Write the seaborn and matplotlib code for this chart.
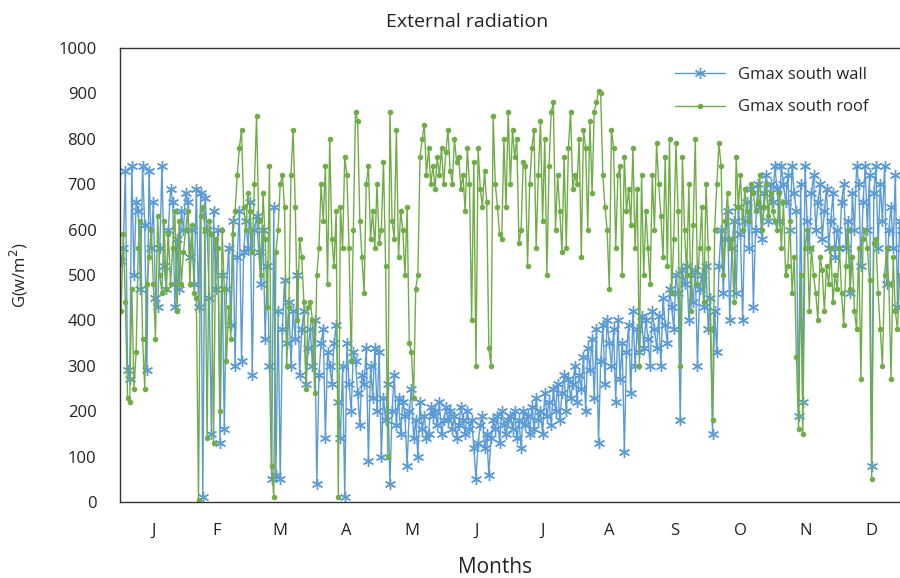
import matplotlib
matplotlib.use('Agg')
import matplotlib.pyplot as plt
import seaborn as sns
import numpy as np

meses = ['J', 'F', 'M', 'A', 'M', 'J', 'J', 'A', 'S', 'O', 'N', 'D']
dias_mes = [31, 28, 31, 30, 31, 30, 31, 31, 30, 31, 30, 31]

# Gmax south wall (W/m2), dia a dia, mes a mes
pared = [
    [530, 560, 730, 290, 270, 740, 500, 660, 640, 470, 740, 610, 290, 730, 560, 660, 450, 430, 560, 740, 520, 470, 600, 690, 660, 430, 580, 470, 640, 600, 680],
    [660, 540, 600, 480, 690, 430, 680, 10, 670, 600, 450, 150, 640, 470, 600, 130, 500, 160, 470, 560, 390, 620, 300, 540, 640, 310, 550, 620],
    [560, 660, 280, 600, 630, 550, 480, 600, 360, 520, 300, 50, 650, 60, 420, 50, 380, 490, 350, 440, 300, 420, 360, 500, 280, 380, 420, 260, 340, 380, 300],
    [400, 40, 280, 350, 380, 140, 330, 300, 260, 350, 390, 220, 140, 300, 10, 350, 260, 200, 330, 310, 240, 170, 280, 260, 340, 90, 300, 230, 340, 200],
    [330, 100, 230, 180, 260, 40, 200, 280, 170, 230, 150, 220, 190, 80, 200, 250, 140, 180, 100, 220, 160, 190, 140, 150, 210, 190, 200, 170, 220, 150, 180],
    [210, 180, 200, 160, 190, 140, 170, 210, 180, 150, 200, 160, 180, 120, 50, 130, 170, 190, 120, 150, 60, 140, 180, 160, 190, 130, 200, 170, 150, 180],
    [190, 160, 200, 140, 180, 120, 200, 170, 190, 150, 210, 160, 230, 180, 200, 150, 240, 190, 220, 170, 250, 200, 260, 180, 240, 280, 200, 270, 230, 260, 300],
    [220, 280, 250, 320, 200, 340, 290, 360, 230, 380, 130, 310, 390, 260, 400, 350, 300, 380, 220, 400, 270, 350, 110, 330, 390, 240, 420, 300, 380, 330, 410],
    [340, 400, 360, 300, 420, 380, 340, 410, 300, 450, 390, 350, 470, 430, 380, 500, 460, 180, 510, 480, 520, 400, 500, 440, 510, 300, 470, 500, 430, 520],
    [380, 450, 150, 420, 330, 520, 600, 460, 580, 640, 400, 560, 620, 460, 650, 590, 400, 620, 660, 560, 690, 430, 600, 700, 650, 580, 680, 720, 620, 700, 660],
    [740, 690, 620, 740, 700, 660, 720, 600, 740, 680, 640, 190, 700, 220, 740, 620, 560, 680, 720, 600, 660, 700, 580, 640, 690, 560, 620, 680, 540, 600],
    [560, 660, 700, 560, 620, 460, 680, 600, 740, 700, 520, 660, 740, 600, 720, 80, 680, 740, 560, 700, 620, 740, 480, 600, 650, 560, 720, 430, 620, 600, 560],
]

# Gmax south roof (W/m2)
techo = [
    [420, 590, 440, 230, 220, 470, 250, 330, 560, 620, 360, 250, 480, 540, 600, 480, 360, 630, 500, 460, 620, 470, 590, 480, 560, 640, 420, 620, 480, 550, 600],
    [640, 480, 610, 460, 450, 5, 630, 650, 600, 140, 620, 590, 130, 580, 560, 200, 600, 470, 310, 430, 360, 590, 640, 720, 780, 820, 650, 600],
    [680, 640, 550, 700, 850, 620, 500, 680, 580, 430, 740, 80, 10, 550, 600, 700, 720, 650, 300, 430, 720, 820, 650, 400, 580, 540, 440, 250, 430, 440, 400],
    [240, 500, 560, 700, 620, 740, 480, 800, 580, 520, 640, 10, 650, 560, 760, 720, 560, 310, 600, 860, 840, 620, 540, 460, 700, 740, 580, 640, 560, 700],
    [570, 600, 750, 520, 100, 860, 620, 580, 820, 540, 640, 600, 500, 650, 350, 330, 230, 470, 500, 760, 800, 830, 720, 780, 700, 740, 690, 760, 720, 780, 700],
    [770, 820, 730, 700, 800, 750, 760, 690, 720, 640, 780, 700, 400, 750, 300, 780, 690, 650, 730, 660, 340, 300, 850, 700, 650, 590, 580, 800, 650, 860],
    [700, 820, 760, 800, 570, 600, 750, 740, 520, 700, 780, 820, 560, 720, 840, 620, 800, 500, 740, 860, 880, 600, 720, 640, 550, 760, 560, 780, 860, 690, 720],
    [700, 800, 540, 820, 780, 600, 840, 680, 860, 880, 905, 900, 720, 650, 600, 470, 820, 780, 560, 720, 740, 500, 760, 640, 690, 610, 780, 560, 690, 300, 720],
    [500, 640, 560, 480, 720, 600, 790, 700, 630, 540, 760, 520, 800, 460, 580, 790, 640, 300, 760, 600, 500, 700, 420, 610, 800, 480, 560, 650, 440, 700],
    [560, 380, 180, 600, 700, 790, 740, 500, 620, 680, 560, 580, 440, 760, 650, 720, 600, 690, 640, 620, 700, 680, 640, 660, 720, 600, 650, 700, 630, 680, 640],
    [620, 600, 680, 560, 660, 500, 520, 620, 460, 540, 320, 160, 500, 150, 560, 600, 420, 560, 500, 460, 400, 540, 510, 420, 520, 480, 560, 440, 500, 470],
    [560, 460, 390, 520, 600, 470, 540, 420, 380, 560, 270, 580, 600, 560, 490, 50, 570, 580, 460, 380, 300, 500, 560, 480, 270, 540, 420, 380, 500, 450, 520],
]

g_pared = np.concatenate(pared)
g_techo = np.concatenate(techo)
dias = np.arange(len(g_pared)) + 0.5

inicio = np.concatenate([[0], np.cumsum(dias_mes)[:-1]])
centros = inicio + np.array(dias_mes) / 2

sns.set_style('white')
plt.rcParams['font.family'] = ['Open Sans', 'DejaVu Sans']

fig = plt.figure(figsize=(9, 5.78), dpi=100)
ax = fig.add_axes([120/900, 1 - 502/578, (905 - 120)/900, (502 - 48)/578])

azul = '#5B9BD5'
verde = '#70AD47'

sns.lineplot(x=dias, y=g_pared, ax=ax, color=azul, linewidth=1, marker=(6, 2, 0),
             markersize=8, markeredgewidth=1, markeredgecolor=azul, label='Gmax south wall')
sns.lineplot(x=dias, y=g_techo, ax=ax, color=verde, linewidth=1, marker='o',
             markersize=4, markeredgewidth=0, label='Gmax south roof')

ax.set_xlim(0, 365)
ax.set_ylim(0, 1000)
ax.set_yticks(np.arange(0, 1001, 100))
ax.set_xticks(centros)
ax.set_xticklabels(meses)
ax.tick_params(axis='both', length=0, labelsize=12, colors='#222222')
ax.tick_params(axis='x', pad=15)
ax.tick_params(axis='y', pad=17)

for s in ax.spines.values():
    s.set_color('#333333')
    s.set_linewidth(1)

ax.set_xlabel('')
ax.set_ylabel('G(w/m$^2$)', fontsize=12)
ax.yaxis.set_label_coords(-0.115, 0.5)
fig.text(0.55, 0.0, 'Months', fontsize=15, ha='center', va='bottom', color='#222222')
fig.text(0.519, 0.962, 'External radiation', fontsize=14, ha='center', va='center', color='#222222')

ax.legend(loc='upper left', bbox_to_anchor=(668/900, 1 - 60/578), bbox_transform=fig.transFigure,
          frameon=False, fontsize=12, handlelength=3.0, labelspacing=1.0, borderaxespad=0)

fig.savefig('out.png', dpi=100)
